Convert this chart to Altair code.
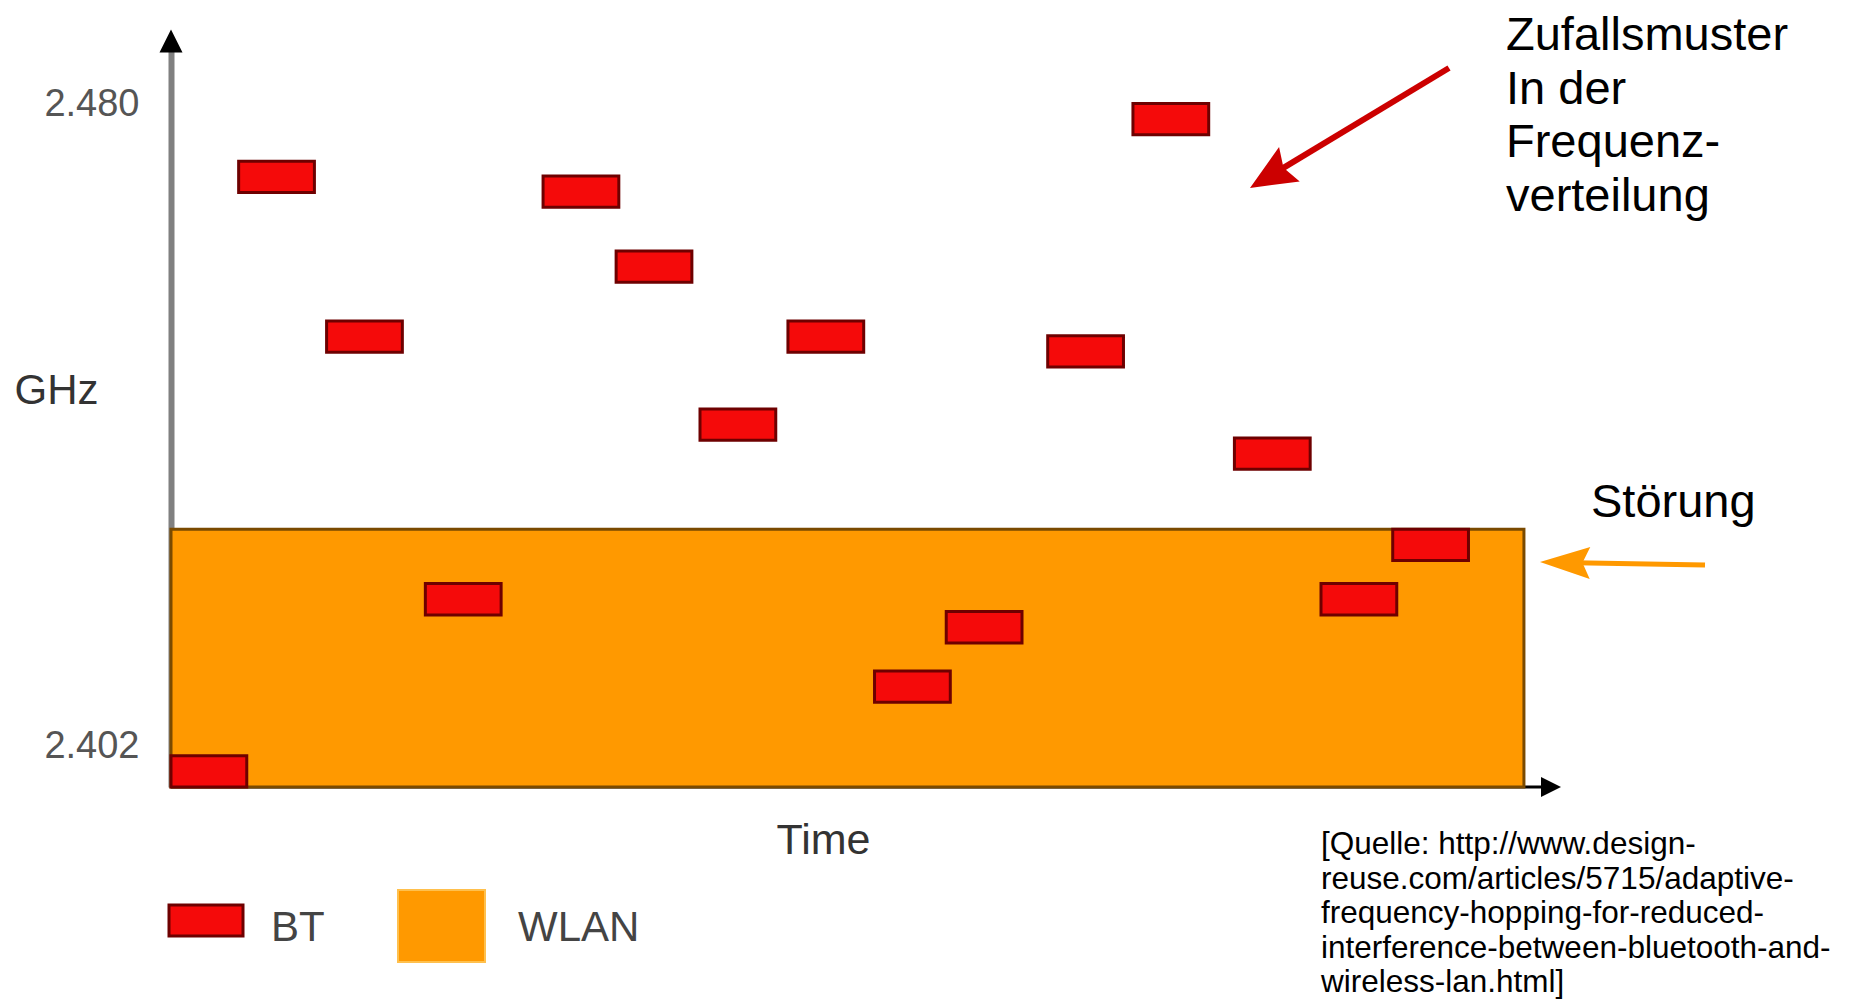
import math
import altair as alt
import pandas as pd

# ---------------- data ----------------
# Bluetooth hops: start time (time units, WLAN burst spans 0..100) and centre frequency (GHz)
bt_start = [0.0, 5.0, 11.5, 18.8, 27.5, 32.9, 39.1, 45.6, 52.0, 57.3, 64.8, 71.1, 78.6, 85.0, 90.3]
bt_freq = [2.3990, 2.4712, 2.4518, 2.4199, 2.4694, 2.4603, 2.4411, 2.4518,
           2.4093, 2.4165, 2.4500, 2.4782, 2.4376, 2.4199, 2.4265]
bt_dwell = 5.6        # duration of one hop (time units)
bt_band = 0.0038      # drawn bandwidth of one hop (GHz)

wlan_time = [0.0, 100.0]
wlan_freq = [2.3971, 2.4284]

y_ticks = [2.402, 2.480]
x_domain = [0.0, 102.0]
y_domain = [2.3971, 2.4877]

# ---------------- layout / style ----------------
W, H = 1380, 746
FONT = "Liberation Sans"
ORANGE = "#ff9900"
RED = "#f50a0a"
RED_EDGE = "#6e0000"

one = pd.DataFrame({"k": [0]})

bt = pd.DataFrame({"start": bt_start, "freq": bt_freq})
bt["end"] = bt["start"] + bt_dwell
bt["lo"] = bt["freq"] - bt_band / 2
bt["hi"] = bt["freq"] + bt_band / 2

wlan = pd.DataFrame({"t0": [wlan_time[0]], "t1": [wlan_time[1]],
                     "f0": [wlan_freq[0]], "f1": [wlan_freq[1]]})

xs = alt.Scale(domain=x_domain, nice=False, zero=False)
ys = alt.Scale(domain=y_domain, nice=False, zero=False)

y_axis = alt.Axis(
    values=y_ticks, format=".3f", ticks=False, grid=False,
    domain=True, domainColor="#808080", domainWidth=6,
    labelFont=FONT, labelFontSize=38, labelColor="#555555", labelPadding=32,
    title="GHz", titleAngle=0, titleX=-115, titleY=362, titleAlign="center",
    titleBaseline="alphabetic", titleFont=FONT, titleFontSize=42,
    titleFontWeight="normal", titleColor="#333333",
)
x_axis = alt.Axis(
    labels=False, ticks=False, domain=False, grid=False,
    title="Time", titleX=652, titleY=66, titleAlign="center",
    titleBaseline="alphabetic", titleFont=FONT, titleFontSize=43,
    titleFontWeight="normal", titleColor="#333333",
)


def X(field):
    return alt.X(field, scale=xs, axis=x_axis)


def Y(field):
    return alt.Y(field, scale=ys, axis=y_axis)


# x axis line (black, continues past the WLAN block to the arrow)
xline_df = pd.DataFrame({"x0": [x_domain[0]], "x1": [x_domain[1]], "y": [y_domain[0]]})
x_line = alt.Chart(xline_df).mark_rule(color="black", strokeWidth=3).encode(
    x=X("x0:Q"), x2="x1:Q", y=Y("y:Q"),
)

wlan_layer = alt.Chart(wlan).mark_rect(fill=ORANGE, stroke="#7a4a00", strokeWidth=3).encode(
    x=X("t0:Q"), x2="t1:Q", y=Y("f0:Q"), y2="f1:Q",
)

bt_layer = alt.Chart(bt).mark_rect(fill=RED, stroke=RED_EDGE, strokeWidth=3).encode(
    x=X("start:Q"), x2="end:Q", y=Y("lo:Q"), y2="hi:Q",
)

# axis arrowheads
yarrow_df = pd.DataFrame({"x": [x_domain[0]], "y": [y_domain[1]]})
y_arrow = alt.Chart(yarrow_df).mark_point(
    shape="M0,-1L-1,1L1,1Z", size=529, filled=True, color="black", opacity=1, strokeWidth=0
).encode(x=X("x:Q"), y=Y("y:Q"))

xarrow_df = pd.DataFrame({"x": [x_domain[1]], "y": [y_domain[0]]})
x_arrow = alt.Chart(xarrow_df).mark_point(
    shape="M1,0L-1,-1L-1,1Z", size=400, filled=True, color="black", opacity=1, strokeWidth=0
).encode(x=X("x:Q"), y=Y("y:Q"))


def arrow(tail, tip, color, lw, hl, hw):
    dx, dy = tip[0] - tail[0], tip[1] - tail[1]
    n = math.hypot(dx, dy)
    ux, uy = dx / n, dy / n
    base = (tip[0] - ux * hl * 0.7, tip[1] - uy * hl * 0.7)
    ang = math.degrees(math.atan2(dx, -dy)) % 360
    cx, cy = tip[0] - ux * hl / 2, tip[1] - uy * hl / 2
    a = hw / hl
    line = alt.Chart(one).mark_rule(color=color, strokeWidth=lw).encode(
        x=alt.value(tail[0]), y=alt.value(tail[1]),
        x2=alt.value(base[0]), y2=alt.value(base[1]),
    )
    head = alt.Chart(one).mark_point(
        shape=f"M0,-1L-{a:.3f},1L0,0.7L{a:.3f},1Z", size=hl * hl, filled=True,
        color=color, opacity=1, strokeWidth=0, angle=ang,
    ).encode(x=alt.value(cx), y=alt.value(cy))
    return [line, head]


red_arrow = arrow((1278, 27), (1079, 147), "#cc0000", 6, 46, 40)
orange_arrow = arrow((1534, 524), (1369, 521), ORANGE, 5, 50, 32)


def text(s, x, y, size, color="black", lh=None):
    kw = dict(align="left", baseline="alphabetic", font=FONT, fontSize=size, color=color)
    if lh:
        kw.update(lineBreak="\n", lineHeight=lh)
    return alt.Chart(one).mark_text(**kw).encode(
        x=alt.value(x), y=alt.value(y), text=alt.value(s)
    )


t_zuf = text("Zufallsmuster\nIn der\nFrequenz-\nverteilung", 1335, 9, 47, lh=53.5)
t_stoer = text("Störung", 1420, 476, 47)
t_src = text("[Quelle: http://www.design-\nreuse.com/articles/5715/adaptive-\n"
             "frequency-hopping-for-reduced-\ninterference-between-bluetooth-and-\n"
             "wireless-lan.html]", 1150, 813, 31.5, lh=34.5)

# legend
leg_bt = alt.Chart(one).mark_rect(fill=RED, stroke=RED_EDGE, strokeWidth=3).encode(
    x=alt.value(-2), x2=alt.value(72), y=alt.value(864), y2=alt.value(895))
leg_wlan = alt.Chart(one).mark_rect(fill=ORANGE, stroke="#ffc04d", strokeWidth=2).encode(
    x=alt.value(227), x2=alt.value(314), y=alt.value(849), y2=alt.value(921))
t_bt = text("BT", 100, 900, 42, color="#444444")
t_wl = text("WLAN", 347, 900, 42, color="#444444")

chart = alt.layer(
    x_line, wlan_layer, bt_layer, y_arrow, x_arrow,
    *red_arrow, *orange_arrow, t_zuf, t_stoer, t_src,
    leg_bt, leg_wlan, t_bt, t_wl,
).properties(
    width=W, height=H,
    autosize=alt.AutoSizeParams(type="none"),
    padding={"left": 163, "top": 33, "right": 290, "bottom": 213},
    background="white",
).configure_view(stroke=None)

chart.save("out.html", embed_options={"renderer": "svg", "actions": False})
